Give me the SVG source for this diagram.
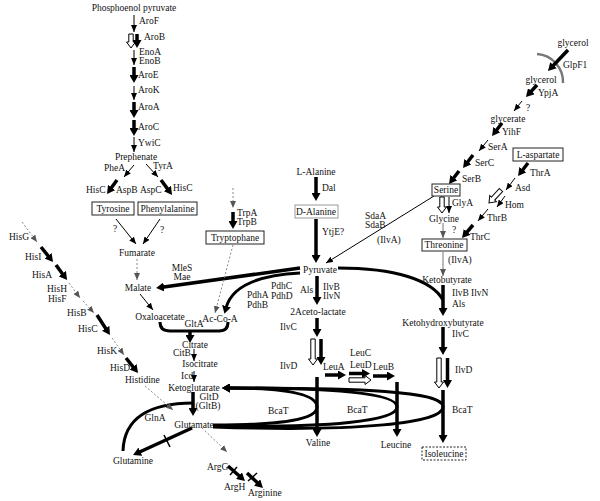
<svg xmlns="http://www.w3.org/2000/svg" width="600" height="501" viewBox="0 0 600 501">
<style>
text{font-family:"Liberation Serif","Times New Roman",serif;font-size:9.5px;fill:#111}
.m{text-anchor:middle}
.box{fill:#fff;stroke:#222;stroke-width:1}
.th{fill:none;stroke:#000;stroke-width:1;marker-end:url(#t)}
.tk{fill:none;stroke:#000;stroke-width:3.5;marker-end:url(#T)}
.gr{fill:none;stroke:#888;stroke-width:1;stroke-dasharray:2 2;marker-end:url(#g)}
.gs{fill:none;stroke:#777;stroke-width:1;marker-end:url(#g)}
.ho{fill:#fff;stroke:#000;stroke-width:1}
.ln{fill:none;stroke:#000;stroke-width:3}
.lt{fill:none;stroke:#000;stroke-width:3;marker-end:url(#T)}
.x{stroke:#000;stroke-width:1.5}
</style>
<defs>
<marker id="t" markerUnits="userSpaceOnUse" markerWidth="7" markerHeight="6" refX="7" refY="3" orient="auto"><path d="M0,0 L7,3 L0,6 z" fill="#000"/></marker>
<marker id="g" markerUnits="userSpaceOnUse" markerWidth="7" markerHeight="6" refX="7" refY="3" orient="auto"><path d="M0,0 L7,3 L0,6 z" fill="#555"/></marker>
<marker id="T" markerUnits="userSpaceOnUse" markerWidth="8" markerHeight="9" refX="2" refY="4.5" orient="auto"><path d="M0,0 L8,4.5 L0,9 z" fill="#000"/></marker>
</defs>
<rect width="600" height="501" fill="#fff"/>

<g id="connectors">
<!-- aromatic chain -->
<path class="th" d="M134,15 V32"/>
<path class="ho" d="M128.8,34 H133.2 V42 H135.5 L131,48 L126.5,42 H128.8 Z"/>
<path class="tk" d="M137,34 V42"/>
<path class="th" d="M134,50 V65"/>
<path class="tk" d="M134,67 V77"/>
<path class="th" d="M134,86 V100"/>
<path class="tk" d="M134,102 V112"/>
<path class="tk" d="M134,120 V130"/>
<path class="th" d="M134,137 V152"/>
<path class="th" d="M134,165 L124,177"/>
<path class="th" d="M146,164 L158,177"/>
<path class="tk" d="M117,180 L110.5,189.1"/>
<path class="tk" d="M161,180 L168.5,190.1"/>
<path class="th" d="M116,219 L136,244"/>
<path class="th" d="M160,219 L143,244"/>
<path class="gr" d="M137,259 V280"/>
<path class="th" d="M140,294 L153,310"/>
<!-- pyruvate branches -->
<path class="tk" d="M300,268 L162,287.2"/>
<path class="lt" d="M300,273 C262,275 232,285 226,308"/>
<path class="ln" d="M338,268 C395,268 432,280 443,300"/>
<!-- TCA -->
<path class="ln" d="M160,322 Q160,331 170,331 L219,331 Q228,331 228,322"/>
<path class="tk" d="M190,331 V337"/>
<path class="th" d="M194,349 V361"/>
<path class="th" d="M194,371 V382"/>
<path class="tk" d="M193,392 V410"/>
<path class="ln" d="M123,451 C124,418 150,403 193,403"/>
<path class="tk" d="M192,428 L138.5,452.5"/>
<line class="x" x1="164" y1="435" x2="170" y2="447"/>
<path class="gr" d="M145,386 L173,410"/>
<path class="gr" d="M202,428 L227,452"/>
<path class="tk" d="M228,466 L240.5,477"/>
<line class="x" x1="230" y1="475" x2="237" y2="467"/>
<path class="tk" d="M247,473 L258.6,483.9"/>
<line class="x" x1="248" y1="481" x2="257" y2="473"/>
<!-- histidine chain -->
<path class="gr" d="M22,222 L37,242"/>
<path class="tk" d="M41,247 L49.3,257.3"/>
<path class="tk" d="M56,265 L63.5,275.2"/>
<path class="gr" d="M69,283 L80,298"/>
<path class="gr" d="M83,301 L94,313"/>
<path class="tk" d="M97,315 L106.7,330"/>
<path class="gr" d="M112,338 L124,355"/>
<path class="tk" d="M126,358 L134.3,368.3"/>
<!-- tryptophane -->
<path class="gr" d="M233,188 V208"/>
<path class="tk" d="M233,212 V223"/>
<path class="gr" d="M233,245 L215,313"/>
<!-- alanine -->
<path class="tk" d="M316,177 V195"/>
<path class="tk" d="M316,219 V257"/>
<path class="th" d="M434,196 L326,263"/>
<!-- valine / leucine -->
<path class="tk" d="M317,276 V299"/>
<path class="tk" d="M317,318 V331"/>
<path class="ho" d="M310.8,339 H315.2 V359 H317.5 L313,365 L308.5,359 H310.8 Z"/>
<path class="tk" d="M321,339 V359"/>
<path class="tk" d="M325,375 H340"/>
<path class="tk" d="M349,373.5 H364"/>
<path class="ho" d="M349,377.8 V382.2 H365 V384.5 L371,380 L365,375.5 V377.8 Z"/>
<path class="tk" d="M373,376 H389"/>
<path class="tk" d="M317,377 V431"/>
<path class="tk" d="M397,382 V431"/>
<!-- BcaT loops -->
<path class="lt" d="M213,425 C285,425 317,419 317,407 C317,394 285,388 228,388"/>
<path class="lt" d="M213,426 C330,428 397,421 397,407 C397,393 330,388 228,388"/>
<path class="lt" d="M213,427 C360,432 443,423 443,407 C443,391 360,388 228,388"/>
<!-- isoleucine -->
<path class="tk" d="M443,390 V437"/>
<path class="tk" d="M443,285 V310"/>
<path class="tk" d="M443,327 V349"/>
<path class="ho" d="M436.8,358 H441.2 V382 H443.5 L439,388 L434.5,382 H436.8 Z"/>
<path class="tk" d="M447.5,358 V382"/>
<path class="gs" d="M443,223 V238"/>
<path class="gs" d="M443,252 V276"/>
<path class="ho" d="M439.8,197 H444.2 V207 H446.5 L442,213 L437.5,207 H439.8 Z"/>
<path class="th" d="M449,197 V213"/>
<!-- glycerol / serine -->
<path d="M537,54 A28,28 0 0 1 563,83" fill="none" stroke="#777" stroke-width="2.5"/>
<path class="tk" d="M568,50 L552.1,66.7"/>
<path class="tk" d="M537,85 L530,92.6"/>
<path class="th" d="M522,101 L514,111"/>
<path class="tk" d="M502,123 L495.7,131.2"/>
<path class="th" d="M488,140 L479,151"/>
<path class="tk" d="M473,155 L466.7,163.2"/>
<path class="tk" d="M459,171 L452.7,179.2"/>
<!-- aspartate / threonine -->
<path class="tk" d="M528,163 L521.7,171.2"/>
<path class="th" d="M515,178 L506,190"/>
<path class="ho" transform="translate(501,190) rotate(42.7)" d="M-2.2,0 H2.2 V11.7 H4.5 L0,17.7 L-4.5,11.7 H-2.2 Z"/>
<path class="th" d="M505,196 L497,207"/>
<path class="th" d="M488,209 L478,221"/>
<path class="tk" d="M473,225 L465.9,233.4"/>
</g>

<g id="aromatic">
<text id="pep" class="m" x="134" y="11">Phosphoenol pyruvate</text>
<text x="139" y="24">AroF</text>
<text x="144" y="40">AroB</text>
<text x="139" y="55">EnoA</text>
<text x="139" y="64">EnoB</text>
<text x="138" y="78">AroE</text>
<text x="138" y="93">AroK</text>
<text x="138" y="110">AroA</text>
<text x="138" y="130">AroC</text>
<text x="138" y="146">YwiC</text>
<text class="m" x="136" y="160">Prephenate</text>
<text x="104" y="171">PheA</text>
<text x="153" y="169">TyrA</text>
<text x="86" y="193">HisC</text>
<text x="116" y="193">AspB</text>
<text x="140" y="193">AspC</text>
<text x="173" y="191">HisC</text>
</g>
<g id="tyrosine"><rect class="box" x="92" y="202" width="42" height="13"/><text class="m" x="113" y="212">Tyrosine</text></g>
<g id="phenylalanine"><rect class="box" x="138" y="202" width="59" height="13"/><text class="m" x="167.5" y="212">Phenylalanine</text></g>
<g id="fumarate"><text x="113" y="232">?</text><text x="160" y="233">?</text><text class="m" x="137" y="256">Fumarate</text></g>
<g id="malate"><text class="m" x="138" y="291">Malate</text><text class="m" x="182" y="271">MleS</text><text class="m" x="182" y="280">Mae</text></g>
<g id="oxaloacetate"><text class="m" x="160" y="320">Oxaloacetate</text></g>
<g id="acetylcoa"><text class="m" x="220" y="322">Ac-Co-A</text><text class="m" x="194" y="327">GltA</text>
<text x="271" y="289">PdhC</text><text x="271" y="299">PdhD</text><text x="247" y="298">PdhA</text><text x="247" y="308">PdhB</text></g>
<g id="citrate"><text class="m" x="195" y="348">Citrate</text><text x="173" y="356">CitB</text></g>
<g id="isocitrate"><text class="m" x="200" y="367">Isocitrate</text><text x="181" y="379">Icd</text></g>
<g id="ketoglutarate"><text class="m" x="194" y="391">Ketoglutarate</text><text class="m" x="209" y="400">GltD</text><text class="m" x="208" y="409">(GltB)</text></g>
<g id="glutamate"><text class="m" x="194" y="428">Glutamate</text><text class="m" x="155" y="421">GlnA</text></g>
<g id="glutamine"><text class="m" x="133" y="464">Glutamine</text></g>
<g id="arginine"><text x="207" y="470">ArgG</text><text x="224" y="490">ArgH</text><text x="248" y="496">Arginine</text></g>
<g id="histidine">
<text x="9" y="240">HisG</text><text x="25" y="260">HisI</text><text x="32" y="278">HisA</text>
<text x="47" y="292">HisH</text><text x="48" y="302">HisF</text><text x="67" y="316">HisB</text>
<text x="78" y="332">HisC</text><text x="97" y="354">HisK</text><text x="110" y="371">HisD</text>
<text x="125" y="383">Histidine</text></g>
<g id="tryptophane"><text x="237" y="216">TrpA</text><text x="237" y="225">TrpB</text>
<rect class="box" x="206" y="231" width="58" height="13"/><text class="m" x="235" y="241">Tryptophane</text></g>
<g id="lalanine"><text class="m" x="316" y="175">L-Alanine</text><text x="322" y="191">Dal</text></g>
<g id="dalanine"><rect class="box" x="295" y="205" width="43" height="13" style="stroke:#999"/><text class="m" x="316" y="215">D-Alanine</text><text x="322" y="235">YtjE?</text></g>
<g id="pyruvate"><text class="m" x="320" y="273">Pyruvate</text>
<text x="365" y="219">SdaA</text><text x="365" y="228">SdaB</text><text x="377" y="243">(IlvA)</text></g>
<g id="acetolactate"><text x="300" y="293">Als</text><text x="323" y="290">IlvB</text><text x="323" y="299">IlvN</text>
<text class="m" x="318" y="315">2Aceto-lactate</text><text x="280" y="330">IlvC</text><text x="280" y="369">IlvD</text></g>
<g id="leucine-path"><text x="323" y="370">LeuA</text><text x="350" y="356">LeuC</text><text x="350" y="368">LeuD</text><text x="373" y="370">LeuB</text></g>
<g id="bcat"><text x="268" y="414">BcaT</text><text x="347" y="413">BcaT</text><text x="452" y="413">BcaT</text></g>
<g id="valine"><text class="m" x="318" y="446">Valine</text></g>
<g id="leucine"><text class="m" x="396" y="448">Leucine</text></g>
<g id="isoleucine"><rect x="422" y="447" width="44" height="13" fill="#fff" stroke="#222" stroke-dasharray="2 1.5"/><text class="m" x="444" y="457">Isoleucine</text></g>
<g id="glycerol"><text class="m" x="573" y="46">glycerol</text><text x="563" y="68">GlpF1</text>
<text class="m" x="541" y="83">glycerol</text><text x="538" y="96">YpjA</text><text x="526" y="111">?</text></g>
<g id="glycerate"><text class="m" x="508" y="122">glycerate</text><text x="502" y="135">YihF</text>
<text x="488" y="150">SerA</text><text x="475" y="166">SerC</text><text x="462" y="182">SerB</text></g>
<g id="laspartate"><rect class="box" x="513" y="148" width="50" height="13"/><text class="m" x="538" y="158">L-aspartate</text>
<text x="530" y="176">ThrA</text><text x="515" y="191">Asd</text><text x="505" y="208">Hom</text><text x="487" y="221">ThrB</text><text x="470" y="240">ThrC</text></g>
<g id="serine"><rect class="box" x="432" y="184" width="28" height="12"/><text class="m" x="446" y="193">Serine</text><text x="452" y="206">GlyA</text></g>
<g id="glycine"><text class="m" x="444" y="222">Glycine</text><text x="452" y="233">?</text></g>
<g id="threonine"><rect class="box" x="422" y="239" width="45" height="12"/><text class="m" x="444" y="248">Threonine</text><text x="448" y="263">(IlvA)</text></g>
<g id="ketobutyrate"><text class="m" x="447" y="283">Ketobutyrate</text><text x="452" y="296">IlvB</text><text x="471" y="296">IlvN</text><text x="452" y="307">Als</text></g>
<g id="ketohydroxybutyrate"><text class="m" x="443" y="326">Ketohydroxybutyrate</text><text x="452" y="337">IlvC</text><text x="455" y="373">IlvD</text></g>
</svg>
